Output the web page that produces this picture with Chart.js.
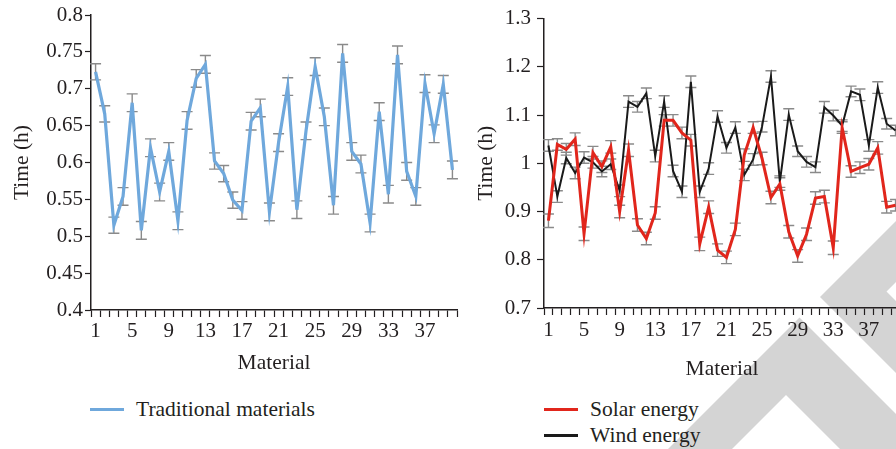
<!DOCTYPE html>
<html>
<head>
<meta charset="utf-8">
<title>Time per material</title>
<script src="https://cdn.jsdelivr.net/npm/chart.js@4.4.0/dist/chart.umd.min.js"></script>
<style>
  html, body { margin: 0; padding: 0; background: #fff; }
  body { width: 896px; height: 449px; overflow: hidden; position: relative;
         font-family: "Liberation Serif", serif; color: #231f20; }
  #stamp { position: absolute; left: 0; top: 0; }
  canvas { position: absolute; top: 0; }
  #left { left: 0; }
  #right { left: 470px; }
  .key { position: absolute; display: flex; align-items: center; height: 24px;
         font-size: 21.5px; white-space: nowrap; }
  .key i { display: block; width: 34px; height: 3px; margin-right: 12px; }
</style>
</head>
<body>
<svg id="stamp" width="896" height="449">
  <polygon fill="#d4d4d4" points="820,297 1000,117 1000,178 886.5,291.5 1000,405 1000,477"/>
  <polygon fill="#d4d4d4" points="799.5,317.5 600,517 664,517 786,395 1000,609 1000,518"/>
</svg>
<canvas id="left" width="470" height="390"></canvas>
<canvas id="right" width="440" height="390"></canvas>
<div class="key" style="left:90px;top:397px"><i style="background:#6fa8dc"></i>Traditional materials</div>
<div class="key" style="left:544px;top:397px"><i style="background:#e1261c"></i>Solar energy</div>
<div class="key" style="left:544px;top:423px"><i style="background:#1a1a1a"></i>Wind energy</div>
<script>
const materials = ['1','2','3','4','5','6','7','8','9','10','11','12','13','14','15','16','17','18','19','20',
                   '21','22','23','24','25','26','27','28','29','30','31','32','33','34','35','36','37','38','39','40'];
const shownTicks = ['1','5','9','13','17','21','25','29','33','37'];

const traditional = [0.723, 0.666, 0.515, 0.554, 0.681, 0.508, 0.620, 0.560, 0.615, 0.521,
                     0.657, 0.714, 0.733, 0.602, 0.585, 0.549, 0.535, 0.656, 0.674, 0.533,
                     0.627, 0.703, 0.536, 0.643, 0.730, 0.662, 0.542, 0.748, 0.615, 0.598,
                     0.518, 0.669, 0.557, 0.746, 0.588, 0.554, 0.707, 0.639, 0.706, 0.590];
const traditionalErr = [0.011, 0.011, 0.011, 0.012, 0.012, 0.012, 0.012, 0.012, 0.012, 0.012,
                        0.012, 0.012, 0.012, 0.011, 0.011, 0.011, 0.012, 0.012, 0.012, 0.012,
                        0.012, 0.012, 0.012, 0.012, 0.012, 0.012, 0.012, 0.012, 0.012, 0.012,
                        0.012, 0.012, 0.012, 0.012, 0.012, 0.012, 0.012, 0.012, 0.012, 0.012];

const solar = [0.881, 1.039, 1.029, 1.050, 0.854, 1.022, 0.993, 1.034, 0.900, 1.027,
               0.872, 0.844, 0.897, 1.089, 1.089, 1.063, 1.048, 0.833, 0.909, 0.820,
               0.805, 0.863, 1.017, 1.074, 1.010, 0.929, 0.957, 0.858, 0.808, 0.853,
               0.928, 0.931, 0.825, 1.074, 0.983, 0.991, 0.998, 1.032, 0.909, 0.913];
const solarErr = [0.014, 0.012, 0.012, 0.013, 0.014, 0.013, 0.012, 0.013, 0.013, 0.013,
                  0.013, 0.013, 0.013, 0.012, 0.012, 0.012, 0.012, 0.014, 0.013, 0.013,
                  0.013, 0.013, 0.013, 0.012, 0.013, 0.013, 0.013, 0.013, 0.013, 0.013,
                  0.013, 0.013, 0.014, 0.012, 0.012, 0.012, 0.012, 0.013, 0.012, 0.012];

const wind = [1.037, 0.931, 1.011, 0.980, 1.012, 1.002, 0.983, 0.998, 0.943, 1.128,
              1.117, 1.145, 1.015, 1.128, 0.984, 0.941, 1.169, 0.941, 0.989, 1.097,
              1.032, 1.074, 0.976, 1.008, 1.076, 1.180, 0.962, 1.101, 1.025, 1.003,
              0.992, 1.116, 1.099, 1.078, 1.149, 1.142, 1.037, 1.157, 1.082, 1.068];
const windErr = [0.012, 0.012, 0.012, 0.012, 0.012, 0.012, 0.011, 0.011, 0.012, 0.012,
                 0.011, 0.011, 0.012, 0.012, 0.012, 0.012, 0.012, 0.012, 0.012, 0.012,
                 0.011, 0.012, 0.012, 0.012, 0.011, 0.012, 0.012, 0.012, 0.011, 0.011,
                 0.011, 0.012, 0.011, 0.012, 0.011, 0.012, 0.012, 0.012, 0.011, 0.011];

const ink = '#231f20';
const tickFont = { family: 'Liberation Serif', size: 21 };
const titleFont = { family: 'Liberation Serif', size: 21.5 };

// whiskers with caps, drawn under the lines
const errorBars = {
  id: 'errorBars',
  beforeDatasetsDraw(chart, args, opts) {
    const { ctx } = chart;
    const y = chart.scales.y;
    ctx.save();
    ctx.strokeStyle = opts.color;
    ctx.lineWidth = opts.width;
    chart.data.datasets.forEach((ds, i) => {
      chart.getDatasetMeta(i).data.forEach((pt, j) => {
        const hi = y.getPixelForValue(ds.data[j] + ds.errors[j]);
        const lo = y.getPixelForValue(ds.data[j] - ds.errors[j]);
        ctx.beginPath();
        ctx.moveTo(pt.x, hi); ctx.lineTo(pt.x, lo);
        ctx.moveTo(pt.x - opts.cap, hi); ctx.lineTo(pt.x + opts.cap, hi);
        ctx.moveTo(pt.x - opts.cap, lo); ctx.lineTo(pt.x + opts.cap, lo);
        ctx.stroke();
      });
    });
    ctx.restore();
  }
};

function buildChart(id, datasets, o) {
  return new Chart(document.getElementById(id), {
    type: 'line',
    data: { labels: materials, datasets },
    options: {
      responsive: false,
      animation: false,
      layout: { padding: o.padding },
      elements: { point: { radius: 0 }, line: { tension: 0 } },
      plugins: {
        legend: { display: false },
        tooltip: { enabled: false },
        errorBars: { color: '#8a8a8a', width: 1.4, cap: 5.5 }
      },
      scales: {
        x: {
          offset: true,
          grid: { offset: true, drawOnChartArea: false, tickLength: 7, tickColor: ink, tickWidth: 1.2 },
          border: { color: ink, width: 1.5 },
          ticks: {
            autoSkip: false, maxRotation: 0, padding: o.xPad, color: ink, font: tickFont,
            callback: (v, i) => shownTicks.includes(materials[i]) ? materials[i] : ''
          },
          title: { display: true, text: 'Material', color: ink, font: titleFont,
                   padding: { top: 0, bottom: o.xTitlePad } },
          afterFit: s => { s.height = o.xHeight; }
        },
        y: {
          min: o.min, max: o.max,
          grid: { drawOnChartArea: false, tickLength: o.yTick, tickColor: ink, tickWidth: 1.2 },
          border: { color: ink, width: 1.5 },
          ticks: { stepSize: o.step, padding: o.yPad, color: ink, font: tickFont,
                   callback: v => String(+v.toFixed(2)) },
          title: { display: true, text: 'Time (h)', color: ink, font: titleFont,
                   padding: { top: o.yTitlePad, bottom: 0 } },
          afterFit: s => { s.width = o.yWidth; }
        }
      }
    },
    plugins: [errorBars]
  });
}

buildChart('left', [
  { label: 'Traditional materials', data: traditional, errors: traditionalErr,
    borderColor: '#6fa8dc', borderWidth: 3.2 }
], { padding: { left: 0, right: 13, top: 15, bottom: 0 }, yWidth: 91, xHeight: 80,
     min: 0.4, max: 0.8, step: 0.05, yTick: 6, yPad: 2, xPad: 2, xTitlePad: 14, yTitlePad: 9 });

buildChart('right', [
  { label: 'Solar energy', data: solar, errors: solarErr, borderColor: '#e1261c', borderWidth: 3 },
  { label: 'Wind energy', data: wind, errors: windErr, borderColor: '#1a1a1a', borderWidth: 2 }
], { padding: { left: 0, right: 10, top: 15, bottom: 0 }, yWidth: 74, xHeight: 82,
     min: 0.7, max: 1.3, step: 0.1, yTick: 7, yPad: 6, xPad: 3, xTitlePad: 8, yTitlePad: 3 });
</script>
</body>
</html>
